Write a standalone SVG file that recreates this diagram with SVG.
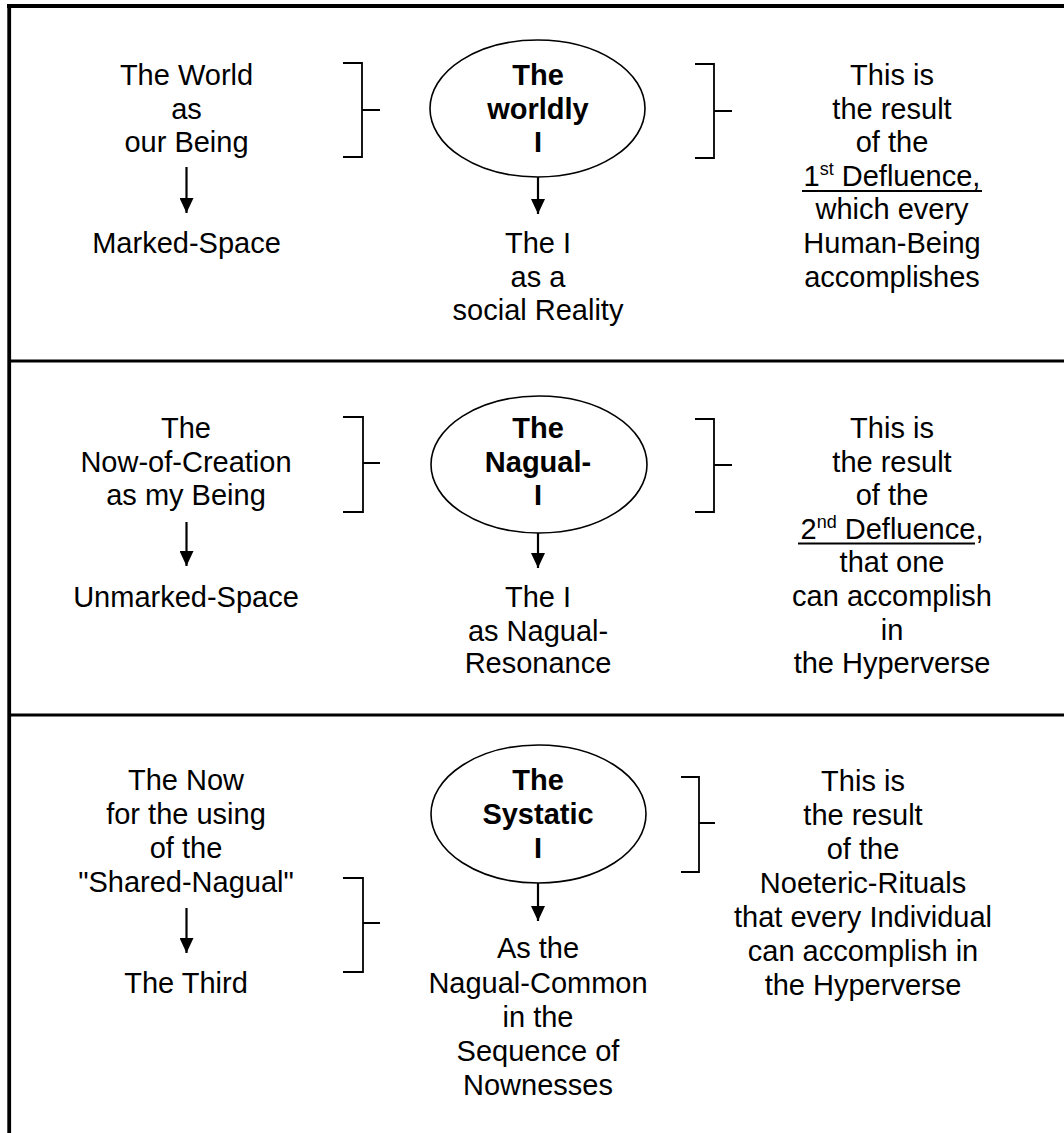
<svg xmlns="http://www.w3.org/2000/svg" width="1064" height="1133" viewBox="0 0 1064 1133">
  <style>
    text { font-family: "Liberation Sans", Arial, sans-serif; font-size: 29px; fill: #000; text-anchor: middle; }
    .b { font-weight: bold; }
    .sup { font-size: 18px; }
    .ell { fill: #fff; stroke: #000; stroke-width: 1.6; }
    .br { fill: none; stroke: #000; stroke-width: 1.8; }
    .arr { fill: none; stroke: #000; stroke-width: 2.2; marker-end: url(#ah); }
    .frame { stroke: #000; fill: none; }
  </style>
  <defs>
    <marker id="ah" markerUnits="userSpaceOnUse" markerWidth="15" markerHeight="14" viewBox="0 0 15 14" refX="15" refY="7" orient="auto">
      <path d="M0,0 L15,7 L0,14 Z" fill="#000"/>
    </marker>
  </defs>
  <rect width="1064" height="1133" fill="#fff"/>

  <g id="frame">
    <line class="frame" x1="7" y1="6" x2="1064" y2="6" stroke-width="4"/>
    <line class="frame" x1="9.2" y1="4" x2="9.2" y2="1133" stroke-width="3.8"/>
    <line class="frame" x1="9" y1="361" x2="1064" y2="361" stroke-width="2.8"/>
    <line class="frame" x1="9" y1="715" x2="1064" y2="715" stroke-width="3"/>
  </g>

  <g id="connectors">
    <!-- row 1 -->
    <line class="arr" x1="186.5" y1="167" x2="186.5" y2="213"/>
    <line class="arr" x1="538" y1="177" x2="538" y2="214"/>
    <path class="br" d="M343,63 H362 V157 H343 M362,110 H380"/>
    <path class="br" d="M695,64 H714 V158 H695 M714,111 H732"/>
    <!-- row 2 -->
    <line class="arr" x1="186.5" y1="522" x2="186.5" y2="566"/>
    <line class="arr" x1="538" y1="533" x2="538" y2="568"/>
    <path class="br" d="M343,417 H363 V512 H343 M363,463 H380"/>
    <path class="br" d="M695,419 H714 V512 H695 M714,465 H732"/>
    <!-- row 3 -->
    <line class="arr" x1="186.5" y1="908" x2="186.5" y2="953"/>
    <line class="arr" x1="538" y1="883" x2="538" y2="921"/>
    <path class="br" d="M343,878 H363 V972 H343 M363,923 H380"/>
    <path class="br" d="M681,777 H699 V872 H681 M699,823 H715"/>
  </g>

  <!-- Row 1 -->
  <g id="world-being">
    <text x="186.5" y="85">The World</text>
    <text x="186.5" y="118.6">as</text>
    <text x="186.5" y="152.2">our Being</text>
  </g>
  <g id="marked-space">
    <text x="186.5" y="253">Marked-Space</text>
  </g>
  <g id="worldly-i">
    <ellipse class="ell" cx="537.5" cy="108.5" rx="107.5" ry="68.5"/>
    <text class="b" x="538" y="85">The</text>
    <text class="b" x="538" y="118.6">worldly</text>
    <text class="b" x="538" y="152.2">I</text>
  </g>
  <g id="i-social">
    <text x="538" y="253">The I</text>
    <text x="538" y="286.6">as a</text>
    <text x="538" y="320.2">social Reality</text>
  </g>
  <g id="result-1">
    <text x="892" y="85">This is</text>
    <text x="892" y="118.6">the result</text>
    <text x="892" y="152.2">of the</text>
    <text x="892" y="185.8">1<tspan class="sup" dy="-11">st</tspan><tspan dy="11"> Defluence,</tspan></text>
    <line x1="802" y1="191" x2="982" y2="191" stroke="#000" stroke-width="2.2"/>
    <text x="892" y="219.4">which every</text>
    <text x="892" y="253">Human-Being</text>
    <text x="892" y="286.6">accomplishes</text>
  </g>

  <!-- Row 2 -->
  <g id="now-creation">
    <text x="186" y="438">The</text>
    <text x="186" y="471.6">Now-of-Creation</text>
    <text x="186" y="505.2">as my Being</text>
  </g>
  <g id="unmarked-space">
    <text x="186" y="606.5">Unmarked-Space</text>
  </g>
  <g id="nagual-i">
    <ellipse class="ell" cx="539" cy="464.5" rx="108" ry="68.5"/>
    <text class="b" x="538" y="438">The</text>
    <text class="b" x="538" y="471.6">Nagual-</text>
    <text class="b" x="538" y="505.2">I</text>
  </g>
  <g id="i-resonance">
    <text x="538" y="607">The I</text>
    <text x="538" y="640.6">as Nagual-</text>
    <text x="538" y="673.2">Resonance</text>
  </g>
  <g id="result-2">
    <text x="892" y="438">This is</text>
    <text x="892" y="471.6">the result</text>
    <text x="892" y="505.2">of the</text>
    <text x="892" y="538.8">2<tspan class="sup" dy="-11">nd</tspan><tspan dy="11"> Defluence,</tspan></text>
    <line x1="798" y1="543.5" x2="975" y2="543.5" stroke="#000" stroke-width="2.2"/>
    <text x="892" y="572.4">that one</text>
    <text x="892" y="606">can accomplish</text>
    <text x="892" y="639.6">in</text>
    <text x="892" y="673.2">the Hyperverse</text>
  </g>

  <!-- Row 3 -->
  <g id="now-shared">
    <text x="186" y="790">The Now</text>
    <text x="186" y="824">for the using</text>
    <text x="186" y="858">of the</text>
    <text x="186" y="892">"Shared-Nagual"</text>
  </g>
  <g id="the-third">
    <text x="186" y="993">The Third</text>
  </g>
  <g id="systatic-i">
    <ellipse class="ell" cx="538.5" cy="814" rx="107.5" ry="69"/>
    <text class="b" x="538" y="790">The</text>
    <text class="b" x="538" y="824">Systatic</text>
    <text class="b" x="538" y="858">I</text>
  </g>
  <g id="nagual-common">
    <text x="538" y="958">As the</text>
    <text x="538" y="992.5">Nagual-Common</text>
    <text x="538" y="1027">in the</text>
    <text x="538" y="1061">Sequence of</text>
    <text x="538" y="1095">Nownesses</text>
  </g>
  <g id="result-3">
    <text x="863" y="791">This is</text>
    <text x="863" y="825">the result</text>
    <text x="863" y="858.5">of the</text>
    <text x="863" y="892.5">Noeteric-Rituals</text>
    <text x="863" y="926.5">that every Individual</text>
    <text x="863" y="960.5">can accomplish in</text>
    <text x="863" y="994.5">the Hyperverse</text>
  </g>
</svg>
